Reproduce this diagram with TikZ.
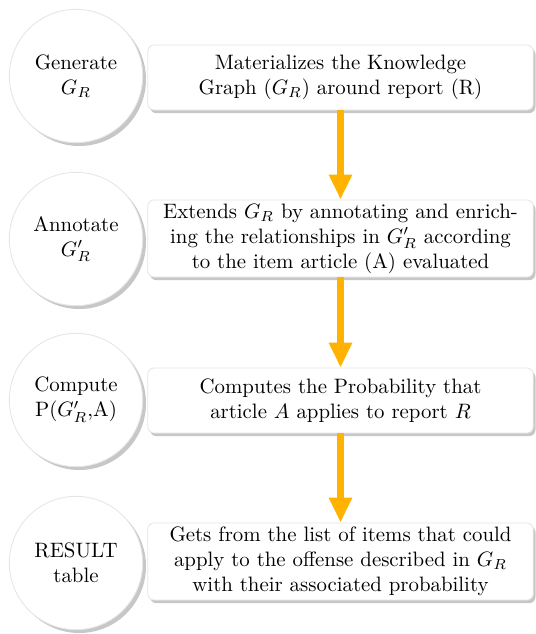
\documentclass[tikz,border=0pt]{standalone}
\usetikzlibrary{arrows.meta,shadows}
\definecolor{flowor}{HTML}{FFB300}
\begin{document}
\begin{tikzpicture}[x=0.48pt,y=-0.48pt,
  stepcircle/.style={circle, draw=black!10, fill=white, minimum size=64pt, inner sep=0pt, align=center,
    drop shadow={shadow xshift=1.6pt, shadow yshift=-1.6pt, fill=black!22, opacity=1}},
  descbox/.style={rectangle, rounded corners=3pt, draw=black!10, fill=white, minimum width=185pt,
    inner ysep=1.5pt, align=center,
    drop shadow={shadow xshift=1.1pt, shadow yshift=-1.5pt, fill=black!22, opacity=1}},
  flow/.style={draw=flowor, line width=3.4pt, -{Triangle[width=10.5pt,length=12pt]}}]
\useasboundingbox (0,0) rectangle (535,634);

\node[stepcircle] (c1) at (76,76) {Generate\\$G_R$};
\node[stepcircle] (c2) at (76,239) {Annotate\\$G'_R$};
\node[stepcircle] (c3) at (76,400) {Compute\\P($G'_R$,A)};
\node[stepcircle] (c4) at (76,563) {RESULT\\table};

\node[descbox, minimum height=31.2pt] (b1) at (340.5,77.5) {Materializes the Knowledge\\Graph ($G_R$) around report (R)};
\node[descbox, minimum height=37pt] (b2) at (340.5,238.5) {Extends $G_R$ by annotating and enrich-\\ing the relationships in $G'_R$ according\\to the item article (A) evaluated};
\node[descbox, minimum height=31.2pt] (b3) at (340.5,400.5) {Computes the Probability that\\article $A$ applies to report $R$};
\node[descbox, minimum height=37pt] (b4) at (340.5,561.5) {Gets from the list of items that could\\apply to the offense described in $G_R$\\with their associated probability};

\draw[flow] (b1.south) -- (b2.north);
\draw[flow] (b2.south) -- (b3.north);
\draw[flow] (b3.south) -- (b4.north);
\end{tikzpicture}
\end{document}
